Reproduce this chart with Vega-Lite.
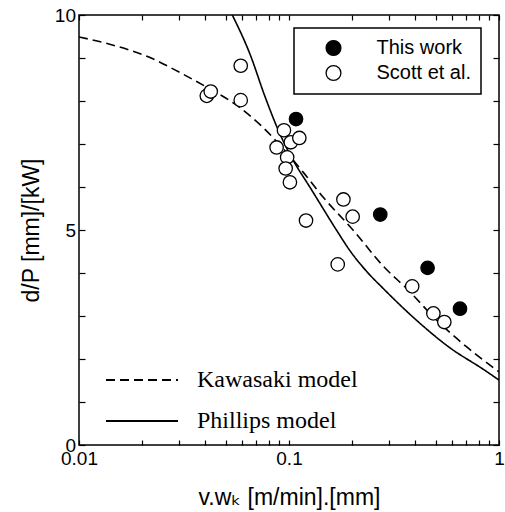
{
  "$schema": "https://vega.github.io/schema/vega-lite/v6.json",
  "autosize": {"type": "none"},
  "padding": {"left": 79, "top": 15, "right": 6, "bottom": 67},
  "width": 420,
  "height": 430,
  "config": {
    "view": {"stroke": "black", "strokeWidth": 1.5},
    "axis": {
      "grid": false,
      "domain": false,
      "tickColor": "black",
      "tickWidth": 1.2,
      "labelColor": "black",
      "titleColor": "black",
      "labelFont": "Liberation Sans",
      "labelFontSize": 19,
      "titleFont": "Liberation Sans, DejaVu Sans",
      "titleFontSize": 23,
      "titleFontWeight": "normal",
      "labelFlush": false,
      "labelOverlap": false
    },
    "legend": {"strokeWidth": 1.5}
  },
  "datasets": {
    "points": [
      {"x": 0.108, "y": 7.58, "series": "This work"},
      {"x": 0.272, "y": 5.36, "series": "This work"},
      {"x": 0.457, "y": 4.12, "series": "This work"},
      {"x": 0.652, "y": 3.17, "series": "This work"},
      {"x": 0.0406, "y": 8.12, "series": "Scott et al."},
      {"x": 0.0424, "y": 8.22, "series": "Scott et al."},
      {"x": 0.0589, "y": 8.82, "series": "Scott et al."},
      {"x": 0.0589, "y": 8.02, "series": "Scott et al."},
      {"x": 0.0946, "y": 7.32, "series": "Scott et al."},
      {"x": 0.0873, "y": 6.92, "series": "Scott et al."},
      {"x": 0.102, "y": 7.04, "series": "Scott et al."},
      {"x": 0.112, "y": 7.14, "series": "Scott et al."},
      {"x": 0.098, "y": 6.69, "series": "Scott et al."},
      {"x": 0.0964, "y": 6.43, "series": "Scott et al."},
      {"x": 0.101, "y": 6.11, "series": "Scott et al."},
      {"x": 0.1205, "y": 5.22, "series": "Scott et al."},
      {"x": 0.1816, "y": 5.71, "series": "Scott et al."},
      {"x": 0.201, "y": 5.31, "series": "Scott et al."},
      {"x": 0.1706, "y": 4.2, "series": "Scott et al."},
      {"x": 0.386, "y": 3.69, "series": "Scott et al."},
      {"x": 0.487, "y": 3.06, "series": "Scott et al."},
      {"x": 0.549, "y": 2.86, "series": "Scott et al."}
    ],
    "curves": [
      {"model": "Kawasaki model", "x": 0.01, "y": 9.49},
      {"model": "Kawasaki model", "x": 0.014, "y": 9.32},
      {"model": "Kawasaki model", "x": 0.0218, "y": 9.01},
      {"model": "Kawasaki model", "x": 0.0303, "y": 8.66},
      {"model": "Kawasaki model", "x": 0.042, "y": 8.28},
      {"model": "Kawasaki model", "x": 0.0564, "y": 7.9},
      {"model": "Kawasaki model", "x": 0.0728, "y": 7.45},
      {"model": "Kawasaki model", "x": 0.0858, "y": 7.1},
      {"model": "Kawasaki model", "x": 0.117, "y": 6.34},
      {"model": "Kawasaki model", "x": 0.1456, "y": 5.76},
      {"model": "Kawasaki model", "x": 0.2026, "y": 4.99},
      {"model": "Kawasaki model", "x": 0.281, "y": 4.16},
      {"model": "Kawasaki model", "x": 0.377, "y": 3.56},
      {"model": "Kawasaki model", "x": 0.487, "y": 2.98},
      {"model": "Kawasaki model", "x": 0.702, "y": 2.28},
      {"model": "Kawasaki model", "x": 1.0, "y": 1.7},
      {"model": "Phillips model", "x": 0.0537, "y": 10.0},
      {"model": "Phillips model", "x": 0.0652, "y": 9.09},
      {"model": "Phillips model", "x": 0.0769, "y": 8.1},
      {"model": "Phillips model", "x": 0.0906, "y": 7.23},
      {"model": "Phillips model", "x": 0.105, "y": 6.61},
      {"model": "Phillips model", "x": 0.126, "y": 5.99},
      {"model": "Phillips model", "x": 0.1355, "y": 5.74},
      {"model": "Phillips model", "x": 0.1687, "y": 4.99},
      {"model": "Phillips model", "x": 0.195, "y": 4.52},
      {"model": "Phillips model", "x": 0.234, "y": 4.04},
      {"model": "Phillips model", "x": 0.281, "y": 3.64},
      {"model": "Phillips model", "x": 0.405, "y": 2.9},
      {"model": "Phillips model", "x": 0.584, "y": 2.26},
      {"model": "Phillips model", "x": 0.842, "y": 1.76},
      {"model": "Phillips model", "x": 1.0, "y": 1.51}
    ]
  },
  "layer": [
    {
      "data": {"name": "curves"},
      "mark": {"type": "line", "color": "black", "strokeWidth": 1.6, "clip": true, "interpolate": "monotone"},
      "encoding": {
        "x": {
          "field": "x", "type": "quantitative",
          "scale": {"type": "log", "domain": [0.01, 1], "nice": false},
          "axis": {
            "orient": "bottom",
            "title": "v.wₖ [m/min].[mm]",
            "values": [0.01,0.02,0.03,0.04,0.05,0.06,0.07,0.08,0.09,0.1,0.2,0.3,0.4,0.5,0.6,0.7,0.8,0.9,1],
            "labelExpr": "datum.value == 0.01 ? '0.01' : datum.value == 0.1 ? '0.1' : datum.value == 1 ? '1' : ''",
            "tickSize": -5,
            "labelPadding": 9,
            "titlePadding": 18
          }
        },
        "y": {
          "field": "y", "type": "quantitative",
          "scale": {"domain": [0, 10], "nice": false},
          "axis": {
            "orient": "left",
            "title": "d/P [mm]/[kW]",
            "values": [0,1,2,3,4,5,6,7,8,9,10],
            "labelExpr": "datum.value % 5 == 0 ? datum.label : ''",
            "tickSize": -6,
            "labelPadding": 9.5,
            "titlePadding": 11
          }
        },
        "strokeDash": {
          "field": "model", "type": "nominal",
          "scale": {"domain": ["Kawasaki model", "Phillips model"], "range": [[9, 5], [1, 0]]},
          "legend": {
            "orient": "none", "legendX": 26, "legendY": 353, "title": null,
            "padding": 0,
            "symbolType": "M-3.6,0H3.6", "symbolSize": 400,
            "symbolStrokeColor": "black", "symbolStrokeWidth": 2,
            "symbolOffset": 25, "labelOffset": 43, "labelLimit": 400,
            "labelFont": "Liberation Serif", "labelFontSize": 24, "labelColor": "black",
            "rowPadding": 17
          }
        }
      }
    },
    {
      "data": {"name": "points"},
      "mark": {"type": "point", "filled": true, "stroke": "black", "strokeWidth": 1.3, "size": 180, "opacity": 1},
      "encoding": {
        "x": {
          "field": "x", "type": "quantitative",
          "scale": {"type": "log", "domain": [0.01, 1], "nice": false},
          "axis": {
            "orient": "top", "title": null, "labels": false,
            "values": [0.01,0.02,0.03,0.04,0.05,0.06,0.07,0.08,0.09,0.1,0.2,0.3,0.4,0.5,0.6,0.7,0.8,0.9,1],
            "tickSize": -5
          }
        },
        "y": {
          "field": "y", "type": "quantitative",
          "scale": {"domain": [0, 10], "nice": false},
          "axis": {
            "orient": "right", "title": null, "labels": false,
            "values": [0,1,2,3,4,5,6,7,8,9,10],
            "tickSize": -6
          }
        },
        "fill": {
          "field": "series", "type": "nominal",
          "scale": {"domain": ["This work", "Scott et al."], "range": ["black", "white"]},
          "legend": {
            "orient": "none", "legendX": 215, "legendY": 13, "title": null,
            "strokeColor": "black", "fillColor": "white", "padding": 10,
            "symbolType": "circle", "symbolSize": 220,
            "symbolStrokeColor": "black", "symbolStrokeWidth": 1.3,
            "symbolOffset": 19.5, "labelOffset": 33,
            "labelExpr": "datum.label + '  '",
            "labelFont": "Liberation Sans", "labelFontSize": 20, "labelColor": "black",
            "rowPadding": 3
          }
        }
      }
    }
  ],
  "resolve": {"axis": {"x": "independent", "y": "independent"}}
}
